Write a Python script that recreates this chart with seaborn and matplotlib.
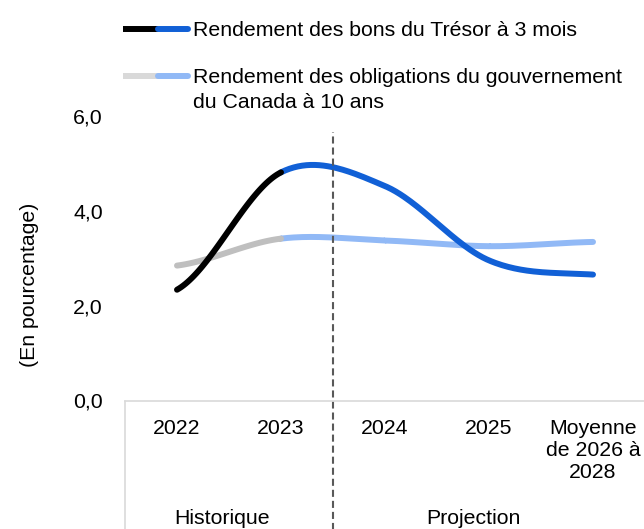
import numpy as np
import pandas as pd
import seaborn as sns
import matplotlib.pyplot as plt
from matplotlib.lines import Line2D

# Data
categories = ["2022", "2023", "2024", "2025", "Moyenne\nde 2026 à\n2028"]
tresor_3m = [2.34, 4.82, 4.53, 2.96, 2.66]
oblig_10a = [2.85, 3.42, 3.38, 3.26, 3.35]
yticks = [0, 2, 4, 6]
n_hist = 2  # 2022 and 2023 are historical

lab_tresor = "Rendement des bons du Trésor à 3 mois"
lab_oblig = "Rendement des obligations du gouvernement\ndu Canada à 10 ans"

BLUE = "#1160D6"
LIGHT_BLUE = "#91B9F6"
GRAY = "#BFBFBF"
LEG_GRAY = "#D9D9D9"
FS = 15.3


def smooth(y, steps=50):
    # Catmull-Rom curve through the points (like Excel's smoothed line)
    p = np.r_[y[0], y, y[-1]]
    xs, ys = [], []
    t = np.linspace(0, 1, steps)
    for i in range(len(y) - 1):
        p0, p1, p2, p3 = p[i], p[i + 1], p[i + 2], p[i + 3]
        yy = 0.5 * (2 * p1 + (p2 - p0) * t
                    + (2 * p0 - 5 * p1 + 4 * p2 - p3) * t ** 2
                    + (3 * p1 - p0 - 3 * p2 + p3) * t ** 3)
        xs.append(i + t)
        ys.append(yy)
    return np.concatenate(xs), np.concatenate(ys)


sns.set_theme(style="white")
plt.rcParams["font.family"] = ["Liberation Sans", "DejaVu Sans"]
plt.rcParams["text.color"] = "black"

fig = plt.figure(figsize=(6.44, 5.29), dpi=100)
ax = fig.add_axes([125 / 644, 1 - 400.5 / 529, 520 / 644, 284 / 529])

for vals, c_hist, c_proj in [(oblig_10a, GRAY, LIGHT_BLUE), (tresor_3m, "black", BLUE)]:
    x, y = smooth(np.array(vals, dtype=float))
    df = pd.DataFrame({"x": x, "y": y})
    hist = df[df.x <= n_hist - 1]
    proj = df[df.x >= n_hist - 1]
    sns.lineplot(data=proj, x="x", y="y", color=c_proj, lw=4.3, sort=False,
                 estimator=None, ax=ax, solid_capstyle="round")
    sns.lineplot(data=hist, x="x", y="y", color=c_hist, lw=4.3, sort=False,
                 estimator=None, ax=ax, solid_capstyle="round")

ax.set_xlim(-0.5, len(categories) - 0.5)
ax.set_ylim(0, 6)
ax.set_xticks(range(len(categories)))
ax.set_xticklabels(categories, fontsize=FS, linespacing=1.2)
ax.set_yticks(yticks)
ax.set_yticklabels([f"{v:.1f}".replace(".", ",") for v in yticks], fontsize=FS)
ax.tick_params(axis="x", length=0, pad=13, colors="black")
ax.tick_params(axis="y", length=0, pad=16, colors="black")
ax.set_xlabel("")
ax.set_ylabel("")

for s in ["top", "right", "left"]:
    ax.spines[s].set_visible(False)
ax.spines["bottom"].set_color(LEG_GRAY)
ax.spines["bottom"].set_linewidth(1.2)

# multi-level category axis: left border and group labels
xt = ax.get_xaxis_transform()
ax.plot([-0.5, -0.5], [0, -0.46], color=LEG_GRAY, lw=1.2, transform=xt, clip_on=False)
ax.text(0.43, -0.415, "Historique", transform=xt, ha="center", va="center", fontsize=FS)
ax.text(2.85, -0.415, "Projection", transform=xt, ha="center", va="center", fontsize=FS)

# separation historique / projection
ax.axvline(n_hist - 0.5, ymin=-0.46, ymax=0.945, color="#595959", lw=1.5,
           ls=(0, (3.4, 1.9)), clip_on=False)

fig.text(30 / 644, 1 - 285 / 529, "(En pourcentage)", rotation=90,
         ha="center", va="center", fontsize=FS)

# legend drawn by hand
for yy, ty, c1, c2, lab in [(29, 30.5, "black", BLUE, lab_tresor),
                            (76, 90, LEG_GRAY, LIGHT_BLUE, lab_oblig)]:
    yf = 1 - yy / 529
    fig.add_artist(Line2D([123 / 644, 158 / 644], [yf, yf], color=c1, lw=4.3,
                          solid_capstyle="butt"))
    fig.add_artist(Line2D([158 / 644, 188 / 644], [yf, yf], color=c2, lw=4.3,
                          solid_capstyle="round"))
    fig.text(193 / 644, 1 - ty / 529, lab, ha="left", va="center",
             fontsize=FS, linespacing=1.35)

fig.savefig("out.png", dpi=100)
